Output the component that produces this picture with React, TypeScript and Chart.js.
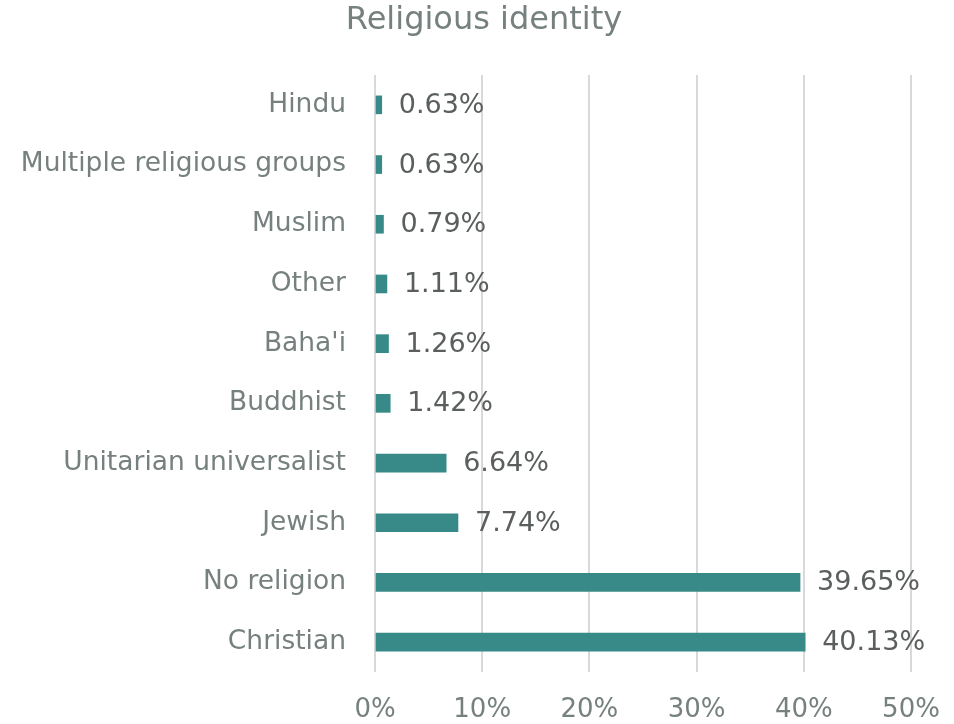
import React, { useEffect, useRef } from "react";
import { Chart, registerables } from "chart.js";

Chart.register(...registerables);

const categories = [
  "Hindu",
  "Multiple religious groups",
  "Muslim",
  "Other",
  "Baha'i",
  "Buddhist",
  "Unitarian universalist",
  "Jewish",
  "No religion",
  "Christian",
];
const values = [0.63, 0.63, 0.79, 1.11, 1.26, 1.42, 6.64, 7.74, 39.65, 40.13];
const xTicks = [0, 10, 20, 30, 40, 50];
const titleText = "Religious identity";

const FONT = "'DejaVu Sans', 'Liberation Sans', sans-serif";
const LABEL_GRAY = "#76817f";
const VALUE_GRAY = "#5a5f5e";
const BAR = "#378a87";

const valueLabels = {
  id: "valueLabels",
  afterDatasetsDraw(chart: any) {
    const ctx = chart.ctx;
    const meta = chart.getDatasetMeta(0);
    ctx.save();
    ctx.font = `27px ${FONT}`;
    ctx.fillStyle = VALUE_GRAY;
    ctx.textAlign = "left";
    ctx.textBaseline = "middle";
    meta.data.forEach((bar: any, i: number) => {
      ctx.fillText(values[i].toFixed(2) + "%", bar.x + 17, bar.y + 1);
    });
    ctx.restore();
  },
};

const titlePlugin = {
  id: "customTitle",
  afterDraw(chart: any) {
    const ctx = chart.ctx;
    ctx.save();
    ctx.font = `32px ${FONT}`;
    ctx.fillStyle = LABEL_GRAY;
    ctx.textAlign = "center";
    ctx.textBaseline = "middle";
    ctx.fillText(titleText, 484, 21);
    ctx.restore();
  },
};

export default function App() {
  const ref = useRef<HTMLCanvasElement | null>(null);
  useEffect(() => {
    if (!ref.current) return;
    const chart = new Chart(ref.current, {
      type: "bar",
      data: {
        labels: categories,
        datasets: [
          {
            data: values,
            backgroundColor: BAR,
            borderWidth: 0,
            barThickness: 18,
          },
        ],
      },
      options: {
        indexAxis: "y",
        animation: false,
        responsive: false,
        maintainAspectRatio: false,
        layout: { padding: { left: 0, right: 43, top: 75, bottom: 0 } },
        plugins: {
          legend: { display: false },
          tooltip: { enabled: false },
          title: { display: false },
        },
        scales: {
          x: {
            min: 0,
            max: 50,
            afterBuildTicks(scale: any) {
              scale.ticks = xTicks.map((v) => ({ value: v }));
            },
            afterFit(scale: any) {
              scale.height = 52;
              scale.paddingLeft = 0;
              scale.paddingRight = 0;
            },
            ticks: {
              color: LABEL_GRAY,
              font: { family: FONT, size: 26 },
              padding: 23,
              callback: (v: any) => v + "%",
              maxRotation: 0,
            },
            grid: { color: "#d9d9d9", lineWidth: 2, drawTicks: false },
            border: { display: false },
          },
          y: {
            afterFit(scale: any) {
              scale.width = 375;
            },
            ticks: {
              color: LABEL_GRAY,
              font: { family: FONT, size: 26.5 },
              padding: 29,
            },
            grid: { display: false, drawTicks: false },
            border: { display: false },
          },
        },
      },
      plugins: [valueLabels, titlePlugin],
    });
    return () => chart.destroy();
  }, []);
  return (
    <div style={{ position: "fixed", left: 0, top: 0, width: 954, height: 724, background: "#fff" }}>
      <canvas ref={ref} width={954} height={724} />
    </div>
  );
}
